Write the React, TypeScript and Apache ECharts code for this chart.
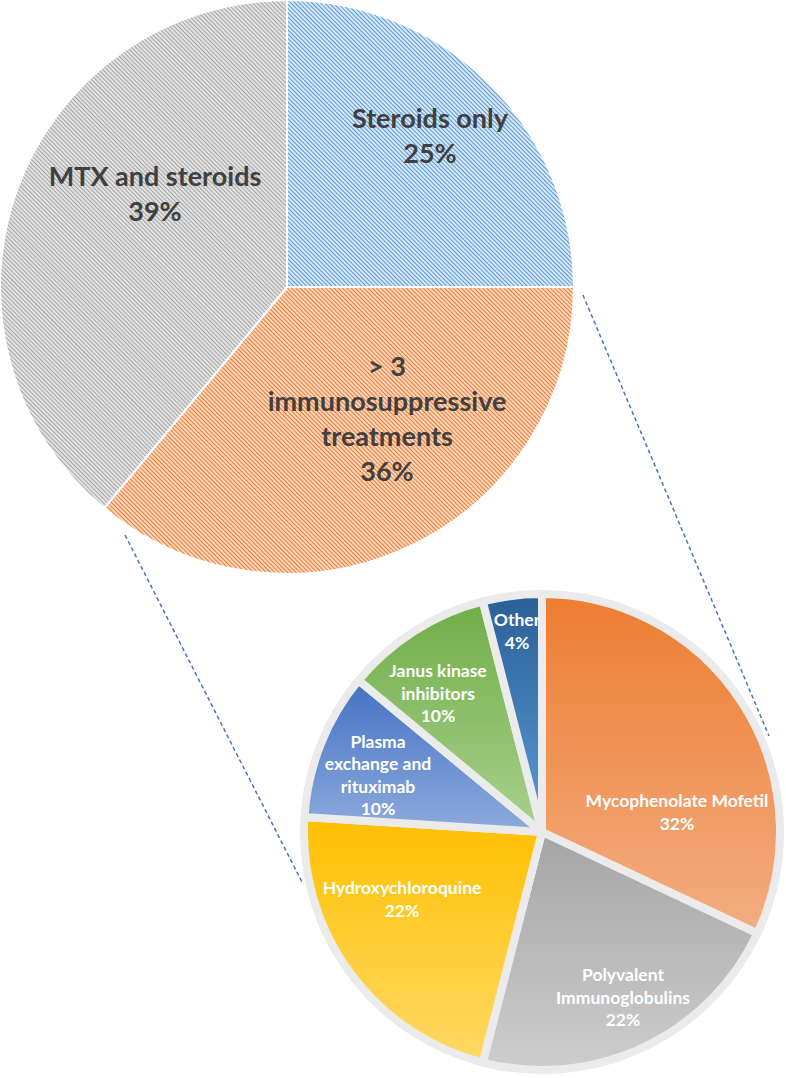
import React, { useEffect, useRef } from 'react';
import * as echarts from 'echarts';

// ---- data ----
const mainCategories = ['Steroids only', '> 3\nimmunosuppressive\ntreatments', 'MTX and steroids'];
const mainValues = [25, 36, 39];

const subCategories = [
  'Mycophenolate Mofetil',
  'Polyvalent\nImmunoglobulins',
  'Hydroxychloroquine',
  'Plasma\nexchange and\nrituximab',
  'Janus kinase\ninhibitors',
  'Other',
];
const subValues = [32, 22, 22, 10, 10, 4];

// ---- styles ----
const mainBase = ['#d6e6f6', '#fbd5bd', '#e2e2e2'];
const mainStripe = ['#5b9bd5', '#ed7d31', '#a5a5a5'];
const subGrad = [
  ['#ed7d31', '#f3ad82'],
  ['#a5a5a5', '#cdcdcd'],
  ['#ffc000', '#ffd966'],
  ['#4472c4', '#8eaadc'],
  ['#70ad47', '#a9d18e'],
  ['#2a5f97', '#5b9bd5'],
];

// layout
const mainCenter = [287, 287];
const mainRadius = 287;
const subCenter = [542, 832];
const subRadius = 238;
const mainLabelOffsets = [[143, -152], [100, 131], [-132, -94]];
const subLabelOffsets = [[135, -20], [81, 165], [-140, 67], [-164, -57], [-104, -139], [-25, -201]];

export default function App() {
  const ref = useRef<HTMLDivElement>(null);

  useEffect(() => {
    document.body.style.margin = '0';
    if (!ref.current) return;
    const chart = echarts.init(ref.current, null, { renderer: 'svg' });

    const option: any = {
      animation: false,
      backgroundColor: '#ffffff',
      series: [
        {
          type: 'pie',
          center: mainCenter,
          radius: [0, mainRadius],
          startAngle: 90,
          clockwise: true,
          avoidLabelOverlap: false,
          silent: true,
          data: mainCategories.map((name, i) => ({
            name,
            value: mainValues[i],
            itemStyle: {
              color: mainBase[i],
              borderColor: '#ffffff',
              borderWidth: 2,
              decal: {
                symbol: 'rect',
                symbolSize: 1,
                dashArrayX: [1, 0],
                dashArrayY: [1, 2],
                rotation: Math.PI / 4,
                color: mainStripe[i],
                backgroundColor: mainBase[i],
              },
            },
          })),
          label: {
            show: true,
            position: 'inside',
            formatter: (p: any) => `${p.name}\n${p.value}%`,
            fontFamily: 'Lato',
            fontWeight: 'bold',
            fontSize: 27,
            lineHeight: 35,
            color: '#404040',
            align: 'center',
          },
          labelLine: { show: false },
          labelLayout: (p: any) => ({
            x: mainCenter[0] + mainLabelOffsets[p.dataIndex][0],
            y: mainCenter[1] + mainLabelOffsets[p.dataIndex][1],
            align: 'center',
            verticalAlign: 'middle',
          }),
        },
        {
          type: 'pie',
          center: subCenter,
          radius: [0, subRadius],
          startAngle: 90,
          clockwise: true,
          avoidLabelOverlap: false,
          silent: true,
          data: subCategories.map((name, i) => ({
            name,
            value: subValues[i],
            itemStyle: {
              color: new echarts.graphic.LinearGradient(0, 0, 0, 1, [
                { offset: 0, color: subGrad[i][0] },
                { offset: 1, color: subGrad[i][1] },
              ]),
              borderColor: '#ebebeb',
              borderWidth: 8,
            },
          })),
          label: {
            show: true,
            position: 'inside',
            formatter: (p: any) => `${p.name}\n${p.value}%`,
            fontFamily: 'Lato',
            fontWeight: 'bold',
            fontSize: 17.5,
            lineHeight: 22.5,
            color: '#ffffff',
            align: 'center',
          },
          labelLine: { show: false },
          labelLayout: (p: any) => ({
            x: subCenter[0] + subLabelOffsets[p.dataIndex][0],
            y: subCenter[1] + subLabelOffsets[p.dataIndex][1],
            align: 'center',
            verticalAlign: 'middle',
          }),
        },
      ],
      graphic: [
        {
          type: 'line',
          shape: { x1: 125, y1: 535, x2: 302, y2: 882 },
          style: { stroke: '#4472c4', lineWidth: 1.5, lineDash: [4, 3] },
        },
        {
          type: 'line',
          shape: { x1: 583, y1: 295, x2: 769, y2: 736 },
          style: { stroke: '#4472c4', lineWidth: 1.5, lineDash: [4, 3] },
        },
      ],
    };

    chart.setOption(option);
    return () => chart.dispose();
  }, []);

  return <div ref={ref} style={{ width: 786, height: 1078 }} />;
}
